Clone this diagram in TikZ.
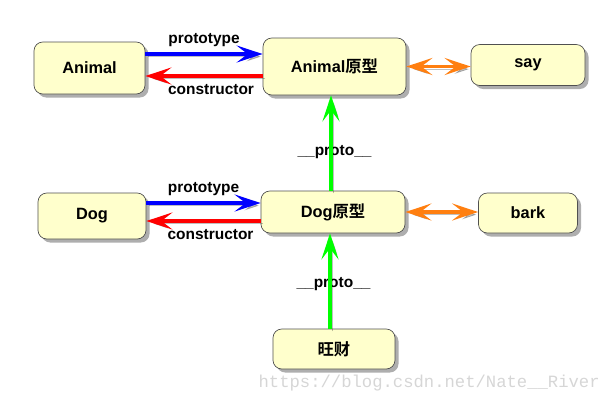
\documentclass[tikz,border=0pt]{standalone}
\usepackage{fontspec}
\setmainfont{Liberation Sans}
\newfontfamily\cjkfont{Noto Sans CJK SC}[BoldFont={Noto Sans CJK SC Bold}]
\newfontfamily\wmfont{Liberation Mono}
\usetikzlibrary{arrows.meta,positioning,calc,shadows}
\definecolor{boxfill}{HTML}{FFFFCC}
\definecolor{boxline}{HTML}{505050}
\definecolor{linkorange}{HTML}{FF7F10}
\tikzset{
  objbox/.style  ={rectangle, rounded corners=5pt, draw=boxline, thin,
                   fill=boxfill, align=center, font=\bfseries\fontsize{9.3}{11}\selectfont,
                   drop shadow={shadow xshift=2pt, shadow yshift=-2pt,
                   opacity=0.45, fill=black!70}},
  linkshadow/.style={preaction={draw=black, opacity=0.25,
                   transform canvas={xshift=1.5pt,yshift=-1.5pt}}},
  protolink/.style={-{Stealth[length=5.2mm,width=3.4mm,inset=2.2mm]}, line width=2pt, draw=blue, linkshadow},
  ctorlink/.style ={-{Stealth[length=5.2mm,width=3.4mm,inset=2.2mm]}, line width=2pt, draw=red, linkshadow},
  chainlink/.style={-{Stealth[length=5.2mm,width=3.4mm,inset=2.2mm]}, line width=2pt, draw=green, linkshadow},
  methlink/.style ={{Stealth[length=5.2mm,width=3.4mm,inset=2.2mm]}-{Stealth[length=5.2mm,width=3.4mm,inset=2.2mm]},
                   line width=2pt, draw=linkorange, linkshadow},
  linklabel/.style={font=\bfseries\fontsize{8.8}{10}\selectfont, inner sep=1pt}
}
\begin{document}
\begin{tikzpicture}
  \useasboundingbox (0,0) rectangle (12.14,-8.04);
  % ---------------- Nodes ----------------
  \node[objbox, minimum width=2.22cm, minimum height=1.04cm] (animal)  at (1.79,-1.36) {Animal};
  \node[objbox, minimum width=2.86cm, minimum height=1.14cm] (animalp) at (6.69,-1.33) {Animal{\cjkfont\bfseries 原型}};
  \node[objbox, minimum width=2.28cm, minimum height=0.82cm] (say)     at (10.56,-1.30) {say};
  \node[objbox, minimum width=2.16cm, minimum height=0.92cm] (dog)     at (1.84,-4.32) {Dog};
  \node[objbox, minimum width=2.88cm, minimum height=0.84cm] (dogp)    at (6.66,-4.24) {Dog{\cjkfont\bfseries 原型}};
  \node[objbox, minimum width=1.98cm, minimum height=0.80cm] (bark)    at (10.56,-4.26) {bark};
  \node[objbox, minimum width=2.44cm, minimum height=0.80cm] (wangcai) at (6.68,-6.98) {{\cjkfont\bfseries 旺财}};

  % ---------------- Animal edges ----------------
  \draw[protolink] ([yshift=0.28cm]animal.east) -- ([yshift=0.28cm]animal.east -| animalp.west)
    node[linklabel, midway, above=2pt] {prototype};
  \draw[ctorlink] ([yshift=-0.16cm]animal.east -| animalp.west) -- ([yshift=-0.16cm]animal.east)
    node[linklabel, midway, below=3pt, xshift=4pt] {constructor};
  \draw[methlink] (animalp.east) -- (animalp.east -| say.west);

  % ---------------- Dog edges ----------------
  \draw[protolink] ([yshift=0.26cm]dog.east) -- ([yshift=0.26cm]dog.east -| dogp.west)
    node[linklabel, midway, above=2pt] {prototype};
  \draw[ctorlink] ([yshift=-0.10cm]dog.east -| dogp.west) -- ([yshift=-0.10cm]dog.east)
    node[linklabel, midway, below=3pt, xshift=4pt] {constructor};
  \draw[methlink] (dogp.east) -- (dogp.east -| bark.west);

  % ---------------- proto chain ----------------
  \draw[chainlink] ([xshift=-0.04cm]dogp.north) -- ([xshift=-0.04cm]dogp.north |- animalp.south)
    node[linklabel, pos=0.4, behind path, xshift=2pt] {\_\_proto\_\_};
  \draw[chainlink] ([xshift=-0.08cm]wangcai.north) -- ([xshift=-0.08cm]wangcai.north |- dogp.south)
    node[linklabel, pos=0.47, behind path, xshift=2pt] {\_\_proto\_\_};

  % watermark
  \node[font=\wmfont\fontsize{9.8}{11}\selectfont, text=black!16, anchor=east, inner sep=0pt] (mark) at (12.0,-7.66) {https://blog.csdn.net/Nate\_\_River};
\end{tikzpicture}
\end{document}
